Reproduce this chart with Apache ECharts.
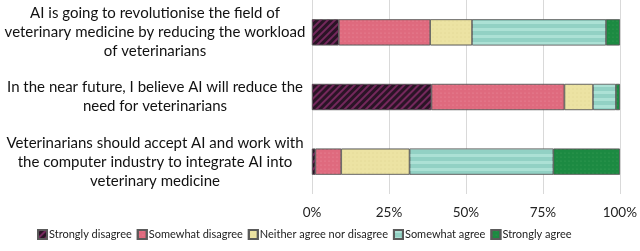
<!DOCTYPE html>
<html>
<head>
<meta charset="utf-8">
<script src="https://cdn.jsdelivr.net/npm/echarts@6/dist/echarts.min.js"></script>
<style>
html,body{margin:0;padding:0;background:#fff;}
#main{width:640px;height:251px;}
</style>
</head>
<body>
<div id="main"></div>
<script>
var statements = [
    'AI is going to revolutionise the field of\nveterinary medicine by reducing the workload\nof veterinarians',
    'In the near future, I believe AI will reduce the\nneed for veterinarians',
    'Veterinarians should accept AI and work with\nthe computer industry to integrate AI into\nveterinary medicine'
];

var tick_labels = ['0%', '25%', '50%', '75%', '100%'];

var strongly_disagree = [8.7, 38.8, 1.1];
var somewhat_disagree = [29.7, 43.2, 8.4];
var neither = [13.6, 9.3, 22.2];
var somewhat_agree = [43.5, 7.4, 46.7];
var strongly_agree = [4.5, 1.3, 21.6];

var series_names = ['Strongly disagree', 'Somewhat disagree', 'Neither agree nor disagree', 'Somewhat agree', 'Strongly agree'];

var myChart = echarts.init(document.getElementById('main'));

function bar(name, data, color, decal) {
    return {
        name: name,
        type: 'bar',
        stack: 'total',
        barWidth: 26,
        data: data,
        itemStyle: {
            color: color,
            borderColor: '#5a5a5a',
            borderWidth: 0.6,
            decal: decal
        }
    };
}

var option = {
    animation: false,
    textStyle: { fontFamily: 'Lato' },
    grid: { left: 312, right: 16, top: 0, bottom: 57 },
    legend: {
        bottom: 6,
        left: 32,
        itemWidth: 9,
        itemHeight: 9,
        itemGap: 5,
        icon: 'rect',
        textStyle: { fontSize: 11, color: '#222', padding: [0, 0, 0, -3] },
        data: series_names
    },
    xAxis: {
        type: 'value',
        min: 0,
        max: 100,
        interval: 25,
        axisLine: { show: false },
        axisTick: { show: false },
        splitLine: { lineStyle: { color: '#d9d9d9', width: 1 } },
        axisLabel: {
            fontSize: 13.5,
            color: '#222',
            margin: 12,
            formatter: function (v) { return tick_labels[v / 25]; }
        }
    },
    yAxis: {
        type: 'category',
        inverse: true,
        data: statements,
        axisLine: { show: false },
        axisTick: { show: false },
        axisLabel: {
            fontSize: 15,
            lineHeight: 19,
            color: '#111',
            align: 'center',
            margin: 157
        }
    },
    series: [
        bar(series_names[0], strongly_disagree, '#2a1426',
            { symbol: 'rect', dashArrayX: [1, 0], dashArrayY: [2, 3], rotation: -Math.PI / 4, color: '#74285c' }),
        bar(series_names[1], somewhat_disagree, '#df6a7e',
            { symbol: 'circle', symbolSize: 0.6, dashArrayX: [[2, 2]], dashArrayY: [2, 2], color: 'rgba(255,190,200,0.45)' }),
        bar(series_names[2], neither, '#ece3a3',
            { symbol: 'circle', symbolSize: 0.6, dashArrayX: [[2, 2]], dashArrayY: [2, 2], color: 'rgba(200,185,110,0.35)' }),
        bar(series_names[3], somewhat_agree, '#92d1c4',
            { symbol: 'rect', dashArrayX: [1, 0], dashArrayY: [3, 4], rotation: 0, color: 'rgba(190,235,225,0.6)' }),
        bar(series_names[4], strongly_agree, '#1c8a42',
            { symbol: 'circle', symbolSize: 0.6, dashArrayX: [[2, 2]], dashArrayY: [2, 2], color: 'rgba(90,180,110,0.6)' })
    ]
};

myChart.setOption(option);
</script>
</body>
</html>
